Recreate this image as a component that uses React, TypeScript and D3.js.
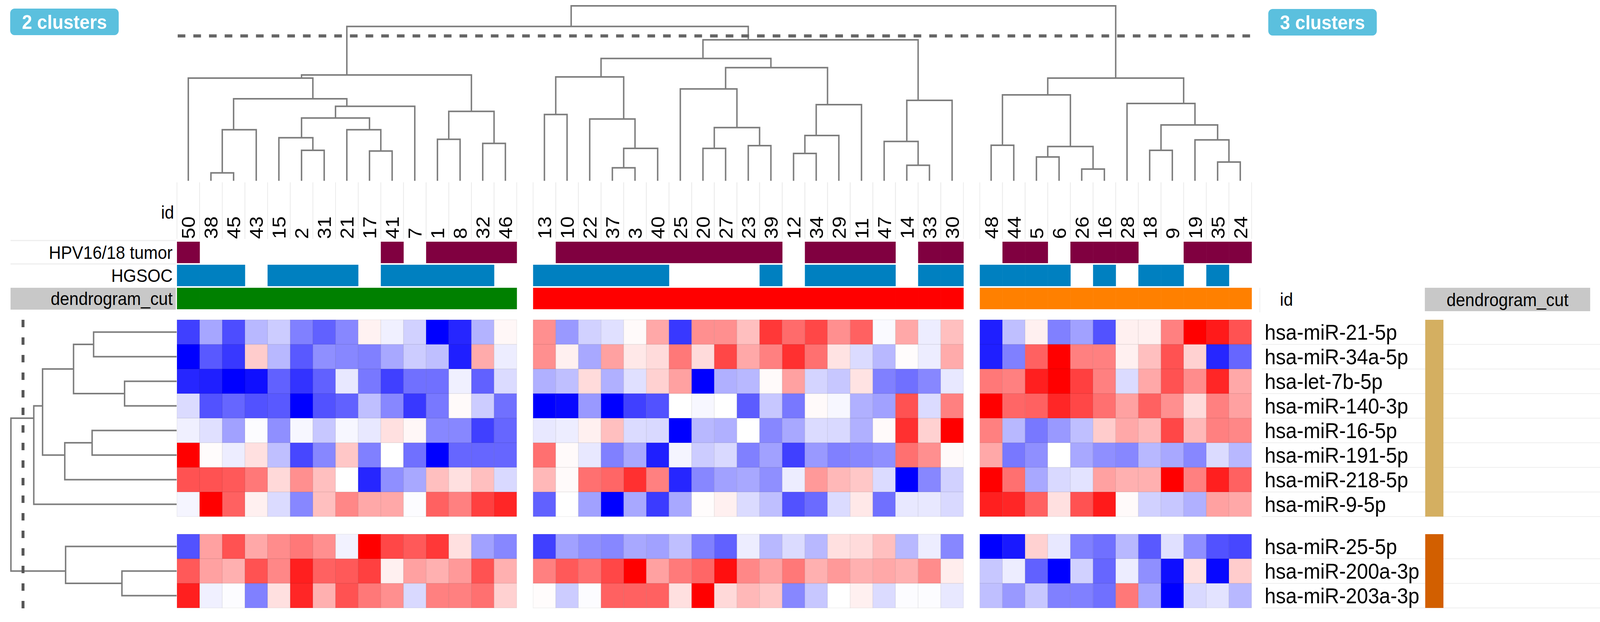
import * as d3 from 'd3';
import { useEffect, useRef } from 'react';

// Sample ids in the column order of the heatmap, grouped by the dendrogram cut
const sampleIds = [
  50, 38, 45, 43, 15, 2, 31, 21, 17, 41, 7, 1, 8, 32, 46,
  13, 10, 22, 37, 3, 40, 25, 20, 27, 23, 39, 12, 34, 29, 11, 47, 14, 33, 30,
  48, 44, 5, 6, 26, 16, 28, 18, 9, 19, 35, 24,
];
const clusterSizes = [15, 19, 12];
const clusterColors = ['#008000', '#ff0000', '#ff8000'];

// annotation tracks (ids that carry the attribute)
const hpvIds = [50, 41, 1, 8, 32, 46, 10, 22, 37, 3, 40, 25, 20, 27, 23, 39, 34, 29, 11, 47, 33, 30, 44, 5, 26, 16, 28, 19, 35, 24];
const hgsocIds = [50, 38, 45, 15, 2, 31, 21, 41, 7, 1, 8, 32, 13, 10, 22, 37, 3, 40, 39, 34, 29, 11, 47, 33, 30, 48, 44, 5, 6, 16, 18, 9, 35];

const mirnas = [
  'hsa-miR-21-5p', 'hsa-miR-34a-5p', 'hsa-let-7b-5p', 'hsa-miR-140-3p', 'hsa-miR-16-5p', 'hsa-miR-191-5p',
  'hsa-miR-218-5p', 'hsa-miR-9-5p', 'hsa-miR-25-5p', 'hsa-miR-200a-3p', 'hsa-miR-203a-3p',
];
const rowGroupSizes = [8, 3];
const rowGroupColors = ['#d4af61', '#d25f00'];

// scaled expression, one array per miRNA, columns in sampleIds order
const miR21 = [
  -0.75, -0.35, -0.7, -0.28, -0.2, -0.5, -0.62, -0.47, 0.05, -0.06, -0.18, -1, -0.85, -0.3, 0.03,
  0.44, -0.4, -0.18, -0.12, 0.02, 0.34, -0.78, 0.44, 0.44, 0.25, 0.78, 0.58, 0.72, 0.44, 0.62, -0.02, 0.34, -0.07, 0.25,
  -0.88, -0.25, 0.06, -0.5, -0.37, -0.68, 0.06, 0.06, 0.5, 1, 0.9, 0.68,
];
const miR34a = [
  -1, -0.65, -0.78, 0.2, -0.28, -0.65, -0.44, -0.47, -0.5, -0.34, -0.2, -0.25, -0.88, 0.33, -0.07,
  0.44, 0.06, -0.34, 0.37, 0.09, 0.14, 0.53, 0.14, 0.72, 0.34, 0.5, 0.81, 0.56, 0.11, -0.14, -0.28, 0.01, -0.07, 0.33,
  -0.88, -0.5, 0.62, 1, 0.5, 0.5, 0.06, 0.25, 0.68, 0.18, -0.85, -0.6,
];
const let7b = [
  -0.85, -0.88, -1, -0.94, -0.62, -0.8, -0.62, -0.09, -0.53, -0.75, -0.56, -0.56, -0.06, -0.62, -0.14,
  -0.31, -0.25, 0.14, -0.31, -0.12, 0.18, 0.37, -1, -0.31, -0.28, 0.02, 0.37, -0.17, -0.22, 0.11, -0.5, -0.56, -0.47, -0.09,
  0.53, 0.5, 0.88, 1, 0.75, 0.5, -0.14, 0.34, 0.68, 0.45, 0.85, 0.34,
];
const miR140 = [
  -0.14, -0.68, -0.6, -0.68, -0.65, -1, -0.68, -0.62, -0.25, -0.47, -0.78, -0.53, 0.02, -0.2, -0.56,
  -1, -0.97, -0.4, -1, -0.75, -0.68, 0, -0.03, 0, -0.64, -0.22, -0.53, 0.02, -0.03, -0.31, -0.37, 0.68, -0.14, 0.5,
  1, 0.6, 0.62, 0.85, 0.72, 0.56, 0.37, 0.62, 0.44, 0.14, 0.5, 0.37,
];
const miR16 = [
  -0.06, -0.12, -0.37, -0.01, -0.44, -0.03, -0.22, -0.03, -0.09, 0.12, 0.03, -0.47, -0.47, -0.75, -0.6,
  -0.09, -0.07, 0.06, 0.25, -0.14, -0.15, -1, -0.28, -0.31, 0, -0.47, -0.34, -0.14, -0.15, -0.31, 0.02, 0.81, 0.18, 1,
  0.5, -0.28, -0.53, -0.4, -0.25, 0.2, 0.34, 0.28, 0.72, 0.28, 0.5, 0.47,
];
const miR191 = [
  1, 0.01, -0.07, 0.12, -0.25, -0.72, -0.47, 0.22, -0.5, 0, -0.56, -1, -0.6, -0.6, -0.6,
  0.56, 0.02, -0.09, -0.5, -0.34, -0.88, -0.04, -0.2, -0.15, -0.5, -0.37, -0.75, -0.4, -0.5, -0.47, -0.44, 0.56, 0.44, 0.02,
  0.34, -0.53, -0.44, 0, -0.34, -0.44, -0.47, -0.28, -0.34, -0.47, -0.14, -0.28,
];
const miR218 = [
  0.68, 0.68, 0.65, 0.53, 0.15, 0.44, 0.25, 0, -0.85, -0.44, -0.34, 0.25, 0.12, 0.25, -0.15,
  0.28, 0.02, 0.56, 0.6, 0.81, 0.5, -0.85, -0.47, -0.37, -0.34, -0.44, -0.07, 0.4, 0.28, 0.22, -0.14, -1, -0.47, -0.18,
  1, 0.56, -0.34, -0.15, -0.11, 0.37, 0.31, 0.31, 1, 0.5, 0.88, 0.62,
];
const miR9 = [
  -0.04, 1, 0.62, 0.06, -0.14, -0.47, 0.25, 0.47, 0.34, 0.34, -0.01, 0.62, 0.5, 0.75, 0.85,
  -0.62, 0, -0.37, -1, -0.34, -0.77, -0.34, 0.01, 0.06, -0.14, -0.25, -0.68, -0.58, -0.14, 0.09, -0.56, -0.09, -0.09, -0.15,
  0.88, 0.85, 0.62, 0.12, 0.68, 0.9, 0.02, -0.18, -0.22, -0.31, 0.37, 0.34,
];
const miR25 = [
  -0.68, 0.37, 0.68, 0.34, 0.45, 0.53, 0.44, -0.05, 1, 0.72, 0.65, 0.78, 0.12, -0.37, -0.47,
  -0.75, -0.37, -0.44, -0.47, -0.34, -0.37, -0.25, -0.5, -0.62, -0.07, -0.28, -0.14, -0.28, 0.12, 0.14, 0.25, -0.28, -0.07, -0.47,
  -1, -0.9, 0.18, -0.09, -0.5, -0.56, -0.28, -0.65, -0.12, -0.44, -0.68, -0.72,
];
const miR200a = [
  0.65, 0.37, 0.31, 0.68, 0.47, 0.88, 0.62, 0.65, 0.75, 0.06, 0.37, 0.31, 0.4, 0.68, 0.31,
  0.5, 0.65, 0.56, 0.72, 1, 0.37, 0.52, 0.6, 0.94, 0.47, 0.37, 0.53, 0.31, 0.4, 0.31, 0.34, 0.31, 0.45, 0.07,
  -0.22, -0.07, -0.62, -1, -0.18, -0.6, -0.07, -0.44, -0.94, 0.12, -0.97, 0.2,
];
const miR203a = [
  0.88, -0.06, -0.01, -0.5, 0.12, 0.85, 0.31, 0.68, 0.53, 0.44, -0.15, 0.5, 0.5, 0.56, 0.18,
  0.01, -0.2, -0.01, 0.62, 0.62, 0.62, 0.12, 1, 0.15, 0.28, 0.22, -0.47, -0.22, 0, 0.06, -0.14, -0.01, -0.01, -0.09,
  -0.25, -0.4, -0.22, -0.5, -0.5, -0.56, 0.53, -0.34, -1, -0.15, -0.11, -0.28,
];
const exprRows = [miR21, miR34a, let7b, miR140, miR16, miR191, miR218, miR9, miR25, miR200a, miR203a];

// dendrograms: leaf = id (or row index), node = [left, right, height]
type TNode = number | [TNode, TNode, number];
const cluster1: TNode = [
  [50, [[[38, 45, 4.5], 43, 29.2], [[[15, [2, 31, 17.4], 24.6], [21, [17, 41, 17.0], 29.2], 35.9], 7, 42.6], 46.9], 58.7],
  [[1, 8, 23.7], [32, 46, 21.4], 39.7],
  60.5,
];
const cluster2: TNode = [
  [
    [[13, 10, 37.9], [22, [[37, 3, 7.4], 40, 18.5], 35.3], 59.4],
    [[25, [[20, 27, 18.5], [23, 39, 20.1], 30.4], 52.5], [[[12, 34, 15.6], 29, 25.9], 11, 43.5], 64.7],
    69.9,
  ],
  [[47, [14, 33, 8.9], 22.5], 30, 46.0],
  80.6,
];
const cluster3: TNode = [
  [[48, 44, 20.3], [[5, 6, 13.6], [26, 16, 6.7], 19.6], 49.1],
  [28, [[18, 9, 17.4], [19, [35, 24, 10.7], 23.4], 31.9], 44.2],
  58.7,
];
const colTree: TNode = [[cluster1, cluster2, 88.2], cluster3, 100];
const colCut = 82.8;

const rowTree: TNode = [
  [[[[0, 1, 50.1], [2, 3, 31.4], 62.2], [[4, 5, 51.0], 6, 67.5], 80.9], 7, 86.2],
  [8, [9, 10, 33.0], 67.0],
  100,
];
const rowCut = 92.7;

interface Laid { pos: number; h: number; n: number; sum: number }
// place every internal node at the mean position of its leaves
function walk(node: TNode, leafPos: (k: number) => number, out: Array<[Laid, Laid, Laid]>): Laid {
  if (typeof node === 'number') {
    const p = leafPos(node);
    return { pos: p, h: 0, n: 1, sum: p };
  }
  const a = walk(node[0], leafPos, out);
  const b = walk(node[1], leafPos, out);
  const n = a.n + b.n;
  const sum = a.sum + b.sum;
  const me = { pos: sum / n, h: node[2], n, sum };
  out.push([me, a, b]);
  return me;
}

const W = 4394;
const H = 1593;
const FONT = "'Liberation Sans', Arial, sans-serif";

export default function App() {
  const ref = useRef<SVGSVGElement>(null);

  useEffect(() => {
    const svg = d3.select(ref.current);
    svg.selectAll('*').remove();

    // columns
    const CW = 62.2;
    const CGAP = 45;
    const X0 = 486;
    const colLeft: number[] = [];
    const colCluster: number[] = [];
    let k = 0;
    clusterSizes.forEach((n, c) => {
      const x = d3.scaleLinear().domain([0, 1]).range([X0 + c * CGAP, X0 + c * CGAP + CW]);
      for (let i = 0; i < n; i++) {
        colLeft.push(x(k));
        colCluster.push(c);
        k++;
      }
    });
    const colIndex = new Map(sampleIds.map((id, i) => [id, i]));
    const colCenter = (id: number) => colLeft[colIndex.get(id)!] + CW / 2;

    // rows
    const RH = 63;
    const RGAP = 45;
    const Y0 = 819;
    const rowTop: number[] = [];
    let r = 0;
    rowGroupSizes.forEach((n, g) => {
      const y = d3.scaleLinear().domain([0, 1]).range([Y0 + g * RGAP, Y0 + g * RGAP + RH]);
      for (let i = 0; i < n; i++) {
        rowTop.push(y(r));
        r++;
      }
    });
    const rowCenter = (i: number) => rowTop[i] + RH / 2;

    const heat = d3
      .scaleLinear<string>()
      .domain([-1, 0, 1])
      .range(['#0000ff', '#ffffff', '#ff0000'])
      .clamp(true);

    svg.append('rect').attr('width', W).attr('height', H).attr('fill', '#fff');

    /**
     * Column dendrogram
     */
    const hy = d3.scaleLinear().domain([0, 100]).range([463, 15]);
    const colSegs: Array<[Laid, Laid, Laid]> = [];
    walk(colTree, colCenter, colSegs);

    // faint column guides under the leaves
    const gGuide = svg.append('g').attr('stroke', '#ebebeb').attr('stroke-width', 2);
    colLeft.forEach((x) => {
      gGuide.append('line').attr('x1', x).attr('x2', x).attr('y1', 467).attr('y2', 612);
      gGuide.append('line').attr('x1', x + CW).attr('x2', x + CW).attr('y1', 467).attr('y2', 612);
    });

    svg
      .append('g')
      .attr('fill', 'none')
      .attr('stroke', '#7d7d7d')
      .attr('stroke-width', 4)
      .selectAll('path')
      .data(colSegs)
      .join('path')
      .attr('d', ([me, a, b]) => `M${a.pos},${hy(a.h)}V${hy(me.h)}H${b.pos}V${hy(b.h)}`);

    svg
      .append('line')
      .attr('x1', 488)
      .attr('x2', 3437)
      .attr('y1', hy(colCut))
      .attr('y2', hy(colCut))
      .attr('stroke', '#666')
      .attr('stroke-width', 8)
      .attr('stroke-dasharray', '21 22');

    // badges
    const badges = [
      { label: '2 clusters', x: 28, y: 22 },
      { label: '3 clusters', x: 3483, y: 23 },
    ];
    badges.forEach((b) => {
      svg
        .append('rect')
        .attr('x', b.x)
        .attr('y', b.y)
        .attr('width', 298)
        .attr('height', 68)
        .attr('rx', 12)
        .attr('fill', '#5bc0de');
      svg
        .append('text')
        .attr('x', b.x + 149)
        .attr('y', b.y + 34)
        .attr('dy', '0.36em')
        .attr('text-anchor', 'middle')
        .attr('fill', '#fff')
        .attr('font-family', FONT)
        .attr('font-weight', 'bold')
        .attr('font-size', 50)
        .text(b.label);
    });

    /**
     * Id labels
     */
    svg
      .append('text')
      .attr('x', 478)
      .attr('y', 560)
      .attr('text-anchor', 'end')
      .attr('font-family', FONT)
      .attr('font-size', 46)
      .text('id');

    svg
      .append('g')
      .attr('font-family', FONT)
      .attr('font-size', 52)
      .selectAll('text')
      .data(sampleIds)
      .join('text')
      .attr('transform', (id) => `translate(${colCenter(id)},612) rotate(-90)`)
      .attr('dy', '0.36em')
      .text((id) => String(id));

    /**
     * Column annotations
     */
    const tracks = [
      { label: 'HPV16/18 tumor', y: 619, color: () => '#800040', has: (id: number) => hpvIds.includes(id) },
      { label: 'HGSOC', y: 678, color: () => '#0080c0', has: (id: number) => hgsocIds.includes(id) },
      {
        label: 'dendrogram_cut',
        y: 737,
        color: (i: number) => clusterColors[colCluster[i]],
        has: () => true,
      },
    ];
    const TH = 55;

    svg.append('rect').attr('x', 29).attr('y', 737).attr('width', 454).attr('height', 56).attr('fill', '#c8c8c8');
    [616, 676].forEach((y) =>
      svg.append('line').attr('x1', 29).attr('x2', 483).attr('y1', y).attr('y2', y).attr('stroke', '#eeeeee').attr('stroke-width', 3)
    );

    tracks.forEach((t) => {
      svg
        .append('text')
        .attr('x', 474)
        .attr('y', t.y + TH / 2)
        .attr('dy', '0.36em')
        .attr('text-anchor', 'end')
        .attr('font-family', FONT)
        .attr('font-size', 46)
        .text(t.label);
      svg
        .append('g')
        .selectAll('rect')
        .data(sampleIds.map((id, i) => ({ id, i })).filter((d) => t.has(d.id)))
        .join('rect')
        .attr('x', (d) => colLeft[d.i])
        .attr('y', t.y)
        .attr('width', CW + 0.6)
        .attr('height', TH)
        .attr('fill', (d) => t.color(d.i));
    });

    /**
     * Heatmap
     */
    const cells = exprRows.flatMap((row, ri) => row.map((v, ci) => ({ v, ri, ci })));
    svg
      .append('g')
      .selectAll('rect')
      .data(cells)
      .join('rect')
      .attr('x', (d) => colLeft[d.ci])
      .attr('y', (d) => rowTop[d.ri])
      .attr('width', CW)
      .attr('height', RH)
      .attr('fill', (d) => heat(d.v))
      .attr('stroke', 'rgba(0,0,0,0.07)')
      .attr('stroke-width', 1.5);

    /**
     * Row dendrogram
     */
    const hx = d3.scaleLinear().domain([0, 100]).range([485, 30]);
    const rowSegs: Array<[Laid, Laid, Laid]> = [];
    walk(rowTree, rowCenter, rowSegs);
    svg
      .append('g')
      .attr('fill', 'none')
      .attr('stroke', '#7d7d7d')
      .attr('stroke-width', 4)
      .selectAll('path')
      .data(rowSegs)
      .join('path')
      .attr('d', ([me, a, b]) => `M${hx(a.h)},${a.pos}H${hx(me.h)}V${b.pos}H${hx(b.h)}`);

    svg
      .append('line')
      .attr('x1', hx(rowCut))
      .attr('x2', hx(rowCut))
      .attr('y1', 819)
      .attr('y2', 1560)
      .attr('stroke', '#555')
      .attr('stroke-width', 8)
      .attr('stroke-dasharray', '19 26');

    /**
     * Row labels and row annotation
     */
    const gSep = svg.append('g').attr('stroke', '#eeeeee').attr('stroke-width', 2);
    rowTop.forEach((y) => {
      gSep.append('line').attr('x1', 3465).attr('x2', W).attr('y1', y + RH).attr('y2', y + RH);
    });
    svg.append('line').attr('x1', 3460).attr('x2', 3460).attr('y1', 737).attr('y2', 800).attr('stroke', '#eeeeee').attr('stroke-width', 2);

    svg
      .append('g')
      .attr('font-family', FONT)
      .attr('font-size', 55)
      .selectAll('text')
      .data(mirnas)
      .join('text')
      .attr('x', 3473)
      .attr('y', (_, i) => rowCenter(i))
      .attr('dy', '0.36em')
      .text((d) => d);

    let start = 0;
    rowGroupSizes.forEach((n, g) => {
      svg
        .append('rect')
        .attr('x', 3914)
        .attr('y', rowTop[start])
        .attr('width', 50)
        .attr('height', n * RH)
        .attr('fill', rowGroupColors[g]);
      start += n;
    });

    svg
      .append('text')
      .attr('x', 3515)
      .attr('y', 783)
      .attr('font-family', FONT)
      .attr('font-size', 46)
      .text('id');
    svg.append('rect').attr('x', 3913).attr('y', 737).attr('width', 454).attr('height', 60).attr('fill', '#c8c8c8');
    svg
      .append('text')
      .attr('x', 4140)
      .attr('y', 767)
      .attr('dy', '0.36em')
      .attr('text-anchor', 'middle')
      .attr('font-family', FONT)
      .attr('font-size', 46)
      .text('dendrogram_cut');
  }, []);

  // the viewport may be narrower than the chart: stretch the drawing to fill it
  return (
    <svg
      ref={ref}
      viewBox={`0 0 ${W} ${H}`}
      preserveAspectRatio='none'
      style={{ position: 'absolute', left: 0, top: 0, width: '100%', height: H, display: 'block' }}
    />
  );
}
